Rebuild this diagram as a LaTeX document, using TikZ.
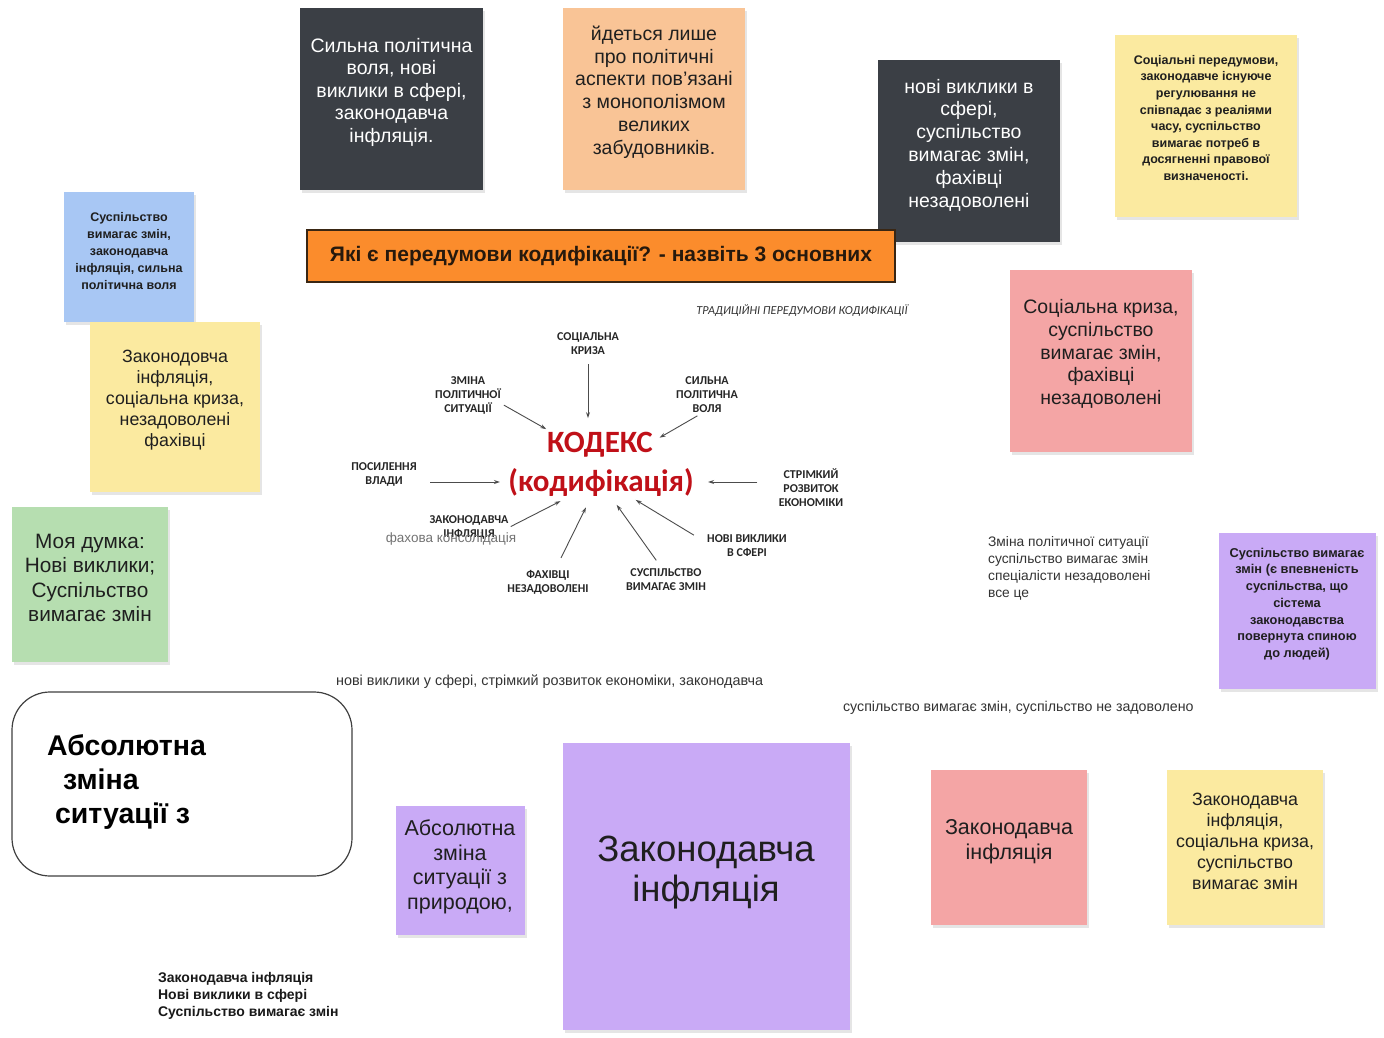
\documentclass[tikz,border=0pt]{standalone}
\usepackage{fontspec}
\setmainfont{Liberation Sans}
\newfontfamily\calfont{Carlito}
\usetikzlibrary{arrows.meta,shadows}

\newcommand{\fsz}[2]{\fontsize{#1}{#2}\selectfont}

\definecolor{slate}{RGB}{59,63,69}
\definecolor{peach}{RGB}{249,196,150}
\definecolor{lemon}{RGB}{251,234,160}
\definecolor{sky}{RGB}{168,199,244}
\definecolor{mint}{RGB}{182,222,176}
\definecolor{tangerine}{RGB}{251,140,44}
\definecolor{rose}{RGB}{244,165,165}
\definecolor{lilac}{RGB}{201,170,246}
\definecolor{codexred}{RGB}{192,16,24}

\tikzset{every picture/.style={line width=0.75pt}}

\begin{document}
\begin{tikzpicture}[x=1pt,y=1pt,yscale=-1,xscale=1,
  paper/.style={fill=#1,drop shadow={shadow xshift=2pt,shadow yshift=-3pt,opacity=0.2}},
  notetext/.style={align=center,inner sep=0.75pt,text=black!88},
  tag/.style={font=\calfont\bfseries\fsz{12}{14},align=center,inner sep=1pt,text=black!85},
  arr/.style={-{Stealth[length=6pt,width=4pt]},line width=0.9pt,draw=black!70},
  plain/.style={align=left,anchor=west,inner sep=0.75pt,text=black!80}]
\useasboundingbox (0,0) rectangle (1384,1038);
\fill[white] (0,0) rectangle (1384,1038);

%Shape: Note [dark, top]
\draw[paper=slate,draw=none] (300,8) rectangle (483,190);
%Shape: Note [peach]
\draw[paper=peach,draw=none] (563,8) rectangle (745,190);
%Shape: Note [dark, right]
\draw[paper=slate,draw=none] (878,60) rectangle (1060,242);
%Shape: Note [yellow, top right]
\draw[paper=lemon,draw=none] (1115,35) rectangle (1297,217);
%Shape: Note [blue]
\draw[paper=sky,draw=none] (64,192) rectangle (194,322);
%Shape: Note [yellow, left]
\draw[paper=lemon,draw=none] (90,322) rectangle (260,492);
%Shape: Note [green]
\draw[paper=mint,draw=none] (12,507) rectangle (168,662);
%Shape: Note [pink, right]
\draw[paper=rose,draw=none] (1010,270) rectangle (1192,452);
%Shape: Note [purple, right]
\draw[paper=lilac,draw=none] (1219,533) rectangle (1376,689);
%Shape: Note [purple, small]
\draw[paper=lilac,draw=none] (396,806) rectangle (525,935);
%Shape: Note [purple, big]
\draw[paper=lilac,draw=none] (563,743) rectangle (850,1030);
%Shape: Note [pink, bottom]
\draw[paper=rose,draw=none] (931,770) rectangle (1087,925);
%Shape: Note [yellow, bottom]
\draw[paper=lemon,draw=none] (1167,770) rectangle (1323,925);
%Shape: Banner
\draw[fill=tangerine,draw=black!70!brown,line width=1.2pt] (307,230) rectangle (895,282);
%Shape: Rounded box
\draw[line width=1.2pt,draw=black!75,rounded corners=38pt] (12,692) rectangle (352,876);

% Text Node
\draw (391.5,92) node[notetext,text=white,font=\fsz{19.5}{22.5}] (voice) {Сильна політична\\воля, нові\\виклики в сфері,\\законодавча\\інфляція.};
% Text Node
\draw (654,92) node[notetext,font=\fsz{19.5}{22.8}] (monopoly) {йдеться лише\\про політичні\\аспекти пов'язані\\з монополізмом\\великих\\забудовників.};
% Text Node
\draw (969,145) node[notetext,text=white,font=\fsz{19.5}{22.8}] (challenge) {нові виклики в\\сфері,\\суспільство\\вимагає змін,\\фахівці\\незадоволені};
% Text Node
\draw (1206,118) node[notetext,font=\bfseries\fsz{12.5}{16.6}] (social) {Соціальні передумови,\\законодавче існуюче\\регулювання не\\співпадає з реаліями\\часу, суспільство\\вимагає потреб в\\досягненні правової\\визначеності.};
% Text Node
\draw (129,251) node[notetext,font=\bfseries\fsz{12.5}{16.8}] (society) {Суспільство\\вимагає змін,\\законодавча\\інфляція, сильна\\політична воля};
% Text Node
\draw (175,400) node[notetext,font=\fsz{17.8}{21}] (inflation) {Законодовча\\інфляція,\\соціальна криза,\\незадоволені\\фахівці};
% Text Node
\draw (90,578) node[notetext,font=\fsz{20.8}{24.5}] (opinion) {Моя думка:\\Нові виклики;\\Суспільство\\вимагає змін};
% Text Node
\draw (601,256) node[inner sep=0.75pt,text=black!80!brown,font=\bfseries\fsz{21}{24}] (question) {Які є передумови кодифікації? - назвіть 3 основних};
% Text Node
\draw (1101,354) node[notetext,font=\fsz{19.5}{22.7}] (crisis) {Соціальна криза,\\суспільство\\вимагає змін,\\фахівці\\незадоволені};
% Text Node
\draw (1297,604) node[notetext,font=\bfseries\fsz{12.8}{16.7}] (trust) {Суспільство вимагає\\змін (є впевненість\\суспільства, що\\сістема\\законодавства\\повернута спиною\\до людей)};
% Text Node
\draw (460,867) node[notetext,font=\fsz{21.5}{24.5}] (nature) {Абсолютна\\зміна\\ситуації з\\природою,};
% Text Node
\draw (706,873) node[notetext,font=\fsz{36.5}{40}] (biginfl) {Законодавча\\інфляція};
% Text Node
\draw (1009,842) node[notetext,font=\fsz{21.5}{25}] (pinkinfl) {Законодавча\\інфляція};
% Text Node
\draw (1245,841) node[notetext,font=\fsz{17.8}{21}] (mixed) {Законодавча\\інфляція,\\соціальна криза,\\суспільство\\вимагає змін};
% Text Node
\draw (46,782) node[align=left,anchor=west,inner sep=0.75pt,font=\bfseries\fsz{28.5}{34}] (absolute) {Абсолютна\\\hspace*{16pt}зміна\\\hspace*{8pt}ситуації з};

% Text Node
\draw (987,568) node[plain,font=\fsz{13.8}{17}] (allthis) {Зміна політичної ситуації\\суспільство вимагає змін\\спеціалісти незадоволені\\все це};
% Text Node
\draw (335,682) node[plain,font=\fsz{14.4}{16}] (economy) {нові виклики у сфері, стрімкий розвиток економіки, законодавча};
% Text Node
\draw (842,708) node[plain,font=\fsz{14.2}{16}] (unhappy) {суспільство вимагає змін, суспільство не задоволено};
% Text Node
\draw (157,996) node[plain,text=black!90,font=\bfseries\fsz{14}{16.7}] (summary) {Законодавча інфляція\\Нові виклики в сфері\\Суспільство вимагає змін};
% Text Node
\draw (802,311) node[inner sep=0.75pt,text=black!80,font=\calfont\itshape\fsz{12.2}{14}] (tradition) {ТРАДИЦІЙНІ ПЕРЕДУМОВИ КОДИФІКАЦІЇ};

% Codex
\draw (600,445) node[inner sep=2pt,text=codexred,font=\calfont\bfseries\fsz{31}{36}] (kod) {КОДЕКС};
\draw (601,482) node[inner sep=2pt,text=codexred,font=\calfont\bfseries\fsz{31}{36}] (kodf) {(кодифікація)};

% Tags
\draw (588,344) node[tag] (soc) {СОЦІАЛЬНА\\КРИЗА};
\draw (468,395) node[tag] (zmina) {ЗМІНА\\ПОЛІТИЧНОЇ\\СИТУАЦІЇ};
\draw (707,395) node[tag] (syl) {СИЛЬНА\\ПОЛІТИЧНА\\ВОЛЯ};
\draw (384,474) node[tag] (posyl) {ПОСИЛЕННЯ\\ВЛАДИ};
\draw (811,488) node[tag] (strim) {СТРІМКИЙ\\РОЗВИТОК\\ЕКОНОМІКИ};
\draw (469,527) node[tag] (zak) {ЗАКОНОДАВЧА\\ІНФЛЯЦІЯ};
\draw (548,582) node[tag] (fah) {ФАХІВЦІ\\НЕЗАДОВОЛЕНІ};
\draw (666,580) node[tag] (susp) {СУСПІЛЬСТВО\\ВИМАГАЄ ЗМІН};
\draw (747,546) node[tag] (novi) {НОВІ ВИКЛИКИ\\В СФЕРІ};
\draw (451,539) node[inner sep=0.75pt,text=black!55,font=\fsz{13.5}{15}] (fahova) {фахова консолідація};

% Arrows
\draw[arr,shorten <=8pt,shorten >=12pt] (soc.south) -- (soc.south |- kod.north);
\draw[arr,shorten <=2pt,shorten >=2pt] (zmina.-15) -- (kod.164);
\draw[arr,shorten <=3pt,shorten >=5pt] (syl.250) -- (kod.5);
\draw[arr,shorten <=12pt,shorten >=6pt] (posyl.east |- kodf.west) -- (kodf.west);
\draw[arr,shorten <=20pt,shorten >=12pt] (strim.west |- kodf.east) -- (kodf.east);
\draw[arr,shorten <=1pt,shorten >=6pt] (zak.east) -- (kodf.205);
\draw[arr,shorten <=12pt,shorten >=10pt] (fah.60) -- (kodf.237);
\draw[arr,shorten <=9pt,shorten >=8pt] (susp.110) -- (kodf.304);
\draw[arr,shorten <=14pt,shorten >=3pt] (novi.175) -- (kodf.333);

\end{tikzpicture}
\end{document}
